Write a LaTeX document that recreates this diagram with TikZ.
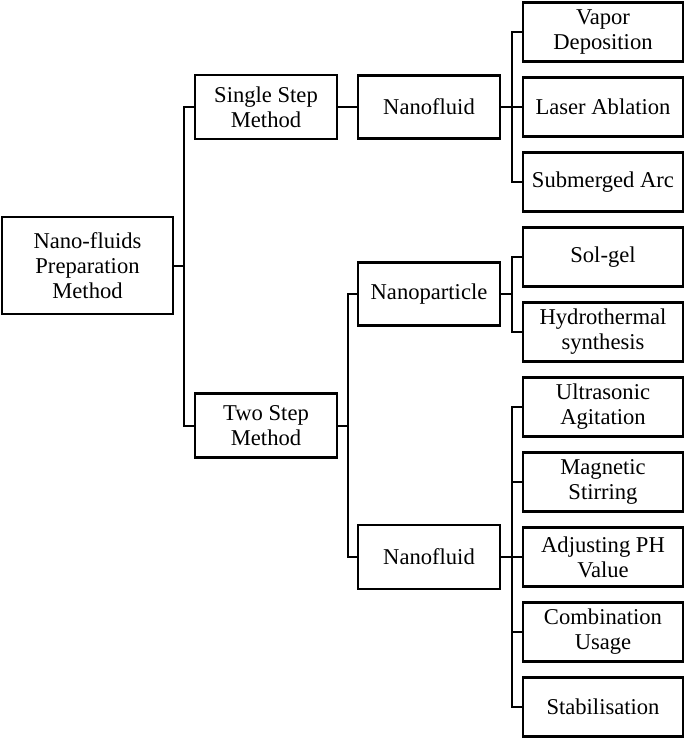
\documentclass[tikz,border=0pt]{standalone}
\usepackage{fontspec}
\setmainfont{Liberation Serif}
\usetikzlibrary{calc}
\begin{document}
\begin{tikzpicture}[x=0.5pt,y=-0.5pt,
  box/.style={draw,line width=1.2pt,inner sep=0pt,align=center,minimum width=71pt,minimum height=32pt,font=\fontsize{11.3}{12.5}\selectfont},
  leafbox/.style={box,minimum width=80pt,minimum height=29.5pt},
  link/.style={line width=1pt}]
\useasboundingbox (0,0) rectangle (685,738);
% root and methods
\node[box,minimum width=85.5pt,minimum height=48.5pt] (root) at (87.5,265.5) {Nano-fluids\\Preparation\\Method};
\node[box] (single) at (266,107) {Single Step\\Method};
\node[box] (two) at (266,425.5) {Two Step\\Method};
% middle level
\node[box,minimum height=31.5pt] (nfa) at (429,107) {Nanofluid};
\node[box,minimum height=31.5pt] (npart) at (429,294) {Nanoparticle};
\node[box] (nfb) at (429,557) {Nanofluid};
% leaves
\node[leafbox] (vapor) at (603,32) {Vapor\\Deposition};
\node[leafbox] (laser) at (603,107) {Laser Ablation};
\node[leafbox] (arc) at (603,182) {Submerged Arc};
\node[leafbox] (solgel) at (603,257) {Sol-gel};
\node[leafbox] (hydro) at (603,332) {Hydrothermal\\synthesis};
\node[leafbox] (ultra) at (603,407) {Ultrasonic\\Agitation};
\node[leafbox] (magnet) at (603,482) {Magnetic\\Stirring};
\node[leafbox] (adjust) at (603,557) {Adjusting PH\\Value};
\node[leafbox] (combo) at (603,632) {Combination\\Usage};
\node[leafbox] (stab) at (603,707) {Stabilisation};
% tree links
\foreach \a/\b in {root/single,root/two,single/nfa,two/npart,two/nfb,nfa/vapor,nfa/laser,nfa/arc,npart/solgel,npart/hydro,nfb/ultra,nfb/magnet,nfb/adjust,nfb/combo,nfb/stab}
  \draw[link] (\a.east) -- ($(\a.east)!0.5!(\a.east -| \b.west)$) |- (\b.west);
\end{tikzpicture}
\end{document}
